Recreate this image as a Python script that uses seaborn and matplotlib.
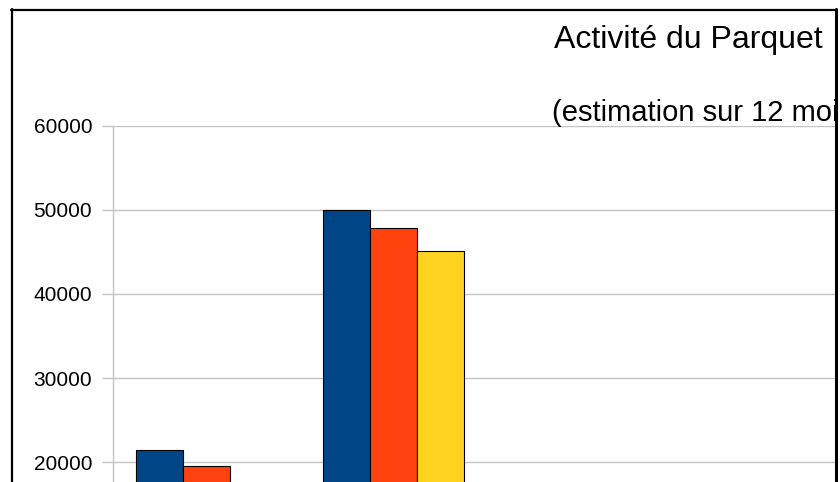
import matplotlib
matplotlib.use("Agg")
import matplotlib.pyplot as plt
from matplotlib.lines import Line2D
from matplotlib.patches import Rectangle
import seaborn as sns
import pandas as pd

# data (lower part of the chart is cut off)
categories = ["Catégorie 1", "Catégorie 2"]
series = ["Série 1", "Série 2", "Série 3"]
values_s1 = [21400, 49950]
values_s2 = [19500, 47800]
values_s3 = [16000, 45100]
colors = ["#004586", "#ff420e", "#ffd320"]
yticks = [20000, 30000, 40000, 50000, 60000]

rows = []
for s, vals in zip(series, [values_s1, values_s2, values_s3]):
    for c, v in zip(categories, vals):
        rows.append({"cat": c, "serie": s, "val": v})
df = pd.DataFrame(rows)

sns.set_style("white")
plt.rcParams["font.family"] = ["Liberation Sans", "DejaVu Sans"]
plt.rcParams["text.color"] = "black"
plt.rcParams["ytick.labelcolor"] = "black"

W, H = 840, 482
fig = plt.figure(figsize=(W / 100, H / 100), dpi=100)

# axes placed in pixel terms; bottom part extends below the image (cropped view)
x0, x1 = 113, 835
ytop, yzero = 126, 630
ax = fig.add_axes([x0 / W, 1 - yzero / H, (x1 - x0) / W, (yzero - ytop) / H])

sns.barplot(data=df, x="cat", y="val", hue="serie", palette=colors,
            saturation=1, width=0.754, edgecolor="black", linewidth=0.8,
            ax=ax, legend=False, zorder=3)

ax.set_ylim(0, 60000)
ax.set_xlim(-0.5, -0.5 + (x1 - x0) / 187)
ax.set_yticks(yticks)
ax.set_yticklabels([str(t) for t in yticks], fontsize=15, color="black")
ax.set_xlabel("")
ax.set_ylabel("")
ax.set_xticks([])
ax.yaxis.grid(True, color="#c4c4c4", linewidth=1, zorder=0)
ax.tick_params(axis="y", length=8, width=1, color="#c4c4c4", pad=7, left=True)
for side in ["top", "right", "bottom"]:
    ax.spines[side].set_visible(False)
ax.spines["left"].set_color("#c4c4c4")
ax.spines["left"].set_linewidth(1)

fig.text(554 / W, 1 - 48 / H, "Activité du Parquet", fontsize=23, va="baseline")
fig.text(552 / W, 1 - 121 / H, "(estimation sur 12 mois)", fontsize=21, va="baseline")

# outer frame of the chart, right edge hides the rest of the titles
fig.add_artist(Rectangle((837 / W, 0), 3 / W, 1, transform=fig.transFigure,
                         facecolor="white", edgecolor="none", zorder=20))
fig.add_artist(Line2D([12 / W, 12 / W], [0, 1 - 9 / H], transform=fig.transFigure,
                      color="black", linewidth=1.6, zorder=21))
fig.add_artist(Line2D([11 / W, 837 / W], [1 - 10 / H, 1 - 10 / H], transform=fig.transFigure,
                      color="black", linewidth=1.6, zorder=21))
fig.add_artist(Line2D([836 / W, 836 / W], [0, 1 - 9 / H], transform=fig.transFigure,
                      color="black", linewidth=2.2, zorder=21))

fig.savefig("out.png", dpi=100)
